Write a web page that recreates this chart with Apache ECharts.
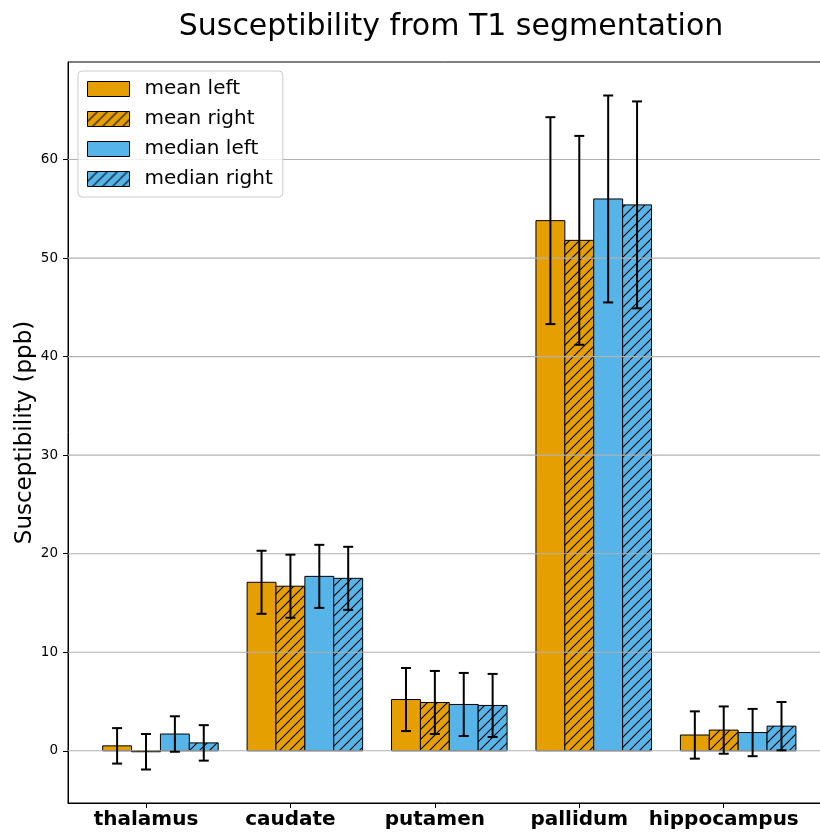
<!DOCTYPE html>
<html>
<head>
<meta charset="utf-8">
<script src="https://cdn.jsdelivr.net/npm/echarts@6/dist/echarts.min.js"></script>
<style>
html,body{margin:0;padding:0;background:#fff;}
#chart{width:820px;height:836px;}
</style>
</head>
<body>
<div id="chart"></div>
<script>
// ---- data ----
const categories = ['thalamus', 'caudate', 'putamen', 'pallidum', 'hippocampus'];
const seriesNames = ['mean left', 'mean right', 'median left', 'median right'];
const meanLeft    = [0.5, 17.1, 5.2, 53.8, 1.6];
const meanRight   = [-0.1, 16.7, 4.9, 51.8, 2.1];
const medianLeft  = [1.7, 17.7, 4.7, 56.0, 1.85];
const medianRight = [0.8, 17.5, 4.6, 55.4, 2.5];
const errMeanLeft    = [1.8, 3.2, 3.2, 10.5, 2.4];
const errMeanRight   = [1.8, 3.2, 3.2, 10.6, 2.4];
const errMedianLeft  = [1.8, 3.2, 3.2, 10.5, 2.4];
const errMedianRight = [1.8, 3.2, 3.2, 10.5, 2.45];
const yTicks = [0, 10, 20, 30, 40, 50, 60];

const values = [meanLeft, meanRight, medianLeft, medianRight];
const errors = [errMeanLeft, errMeanRight, errMedianLeft, errMedianRight];

// ---- styling ----
const ORANGE = '#E69F00';
const BLUE = '#56B4E9';
const BAR_W = 0.2;
const OFFSETS = [-0.2, 0, 0.2, 0.4];
const X_MIN = -0.54, X_MAX = 4.74;
const Y_MIN = -5.3, Y_MAX = 69.9;
const FONT = 'DejaVu Sans';

function hatch(color) {
  const s = 20;
  const c = document.createElement('canvas');
  c.width = s; c.height = s;
  const ctx = c.getContext('2d');
  ctx.fillStyle = color;
  ctx.fillRect(0, 0, s, s);
  ctx.strokeStyle = '#000';
  ctx.lineWidth = 1.1;
  for (let k = -2; k <= 2; k++) {
    const o = k * s / 2;
    ctx.beginPath();
    ctx.moveTo(o, s);
    ctx.lineTo(o + s, 0);
    ctx.stroke();
  }
  return { image: c, repeat: 'repeat' };
}
const fills = [ORANGE, hatch(ORANGE), BLUE, hatch(BLUE)];

const series = [];
values.forEach((vals, k) => {
  series.push({
    name: seriesNames[k],
    type: 'custom',
    z: 2,
    itemStyle: { color: fills[k], borderColor: '#000', borderWidth: 1 },
    data: vals.map((v, i) => [i + OFFSETS[k], v]),
    renderItem: function (params, api) {
      const x = api.value(0), y = api.value(1);
      const p0 = api.coord([x - BAR_W / 2, 0]);
      const p1 = api.coord([x + BAR_W / 2, y]);
      return {
        type: 'rect',
        shape: { x: p0[0], y: Math.min(p0[1], p1[1]), width: p1[0] - p0[0], height: Math.abs(p1[1] - p0[1]) },
        style: { fill: fills[k], stroke: '#000', lineWidth: 1 }
      };
    }
  });
});

// horizontal grid lines drawn above bars
series.push({
  type: 'custom',
  z: 3,
  silent: true,
  data: yTicks.map(v => [v]),
  renderItem: function (params, api) {
    const cs = params.coordSys;
    const p = api.coord([X_MIN, api.value(0)]);
    return {
      type: 'line',
      shape: { x1: cs.x, y1: p[1], x2: cs.x + cs.width, y2: p[1] },
      style: { stroke: '#b0b0b0', lineWidth: 1.1 }
    };
  }
});

// error bars
values.forEach((vals, k) => {
  series.push({
    type: 'custom',
    z: 4,
    silent: true,
    data: vals.map((v, i) => [i + OFFSETS[k], v, errors[k][i]]),
    renderItem: function (params, api) {
      const x = api.value(0), y = api.value(1), e = api.value(2);
      const top = api.coord([x, y + e]);
      const bot = api.coord([x, y - e]);
      const cap = 5;
      const st = { stroke: '#000', lineWidth: 2 };
      return {
        type: 'group',
        children: [
          { type: 'line', shape: { x1: top[0], y1: top[1], x2: bot[0], y2: bot[1] }, style: st },
          { type: 'line', shape: { x1: top[0] - cap, y1: top[1], x2: top[0] + cap, y2: top[1] }, style: st },
          { type: 'line', shape: { x1: bot[0] - cap, y1: bot[1], x2: bot[0] + cap, y2: bot[1] }, style: st }
        ]
      };
    }
  });
});

const chart = echarts.init(document.getElementById('chart'), null, { renderer: 'canvas' });
chart.setOption({
  animation: false,
  backgroundColor: '#fff',
  textStyle: { fontFamily: FONT },
  title: {
    text: 'Susceptibility from T1 segmentation',
    left: 446, textAlign: 'center', top: 7,
    textStyle: { fontFamily: FONT, fontSize: 30, fontWeight: 'normal', color: '#000' }
  },
  legend: {
    left: 78, top: 71,
    orient: 'vertical',
    icon: 'rect',
    itemWidth: 42, itemHeight: 15,
    itemGap: 10,
    padding: [8, 10, 8, 9],
    backgroundColor: 'rgba(255,255,255,0.8)',
    borderColor: '#cccccc', borderWidth: 1, borderRadius: 4,
    textStyle: { fontFamily: FONT, fontSize: 20, lineHeight: 20, color: '#000', padding: [0, 0, 0, 10] },
    data: seriesNames.map((n, k) => ({
      name: n,
      itemStyle: { color: fills[k], borderColor: '#000', borderWidth: 1 }
    }))
  },
  grid: {
    left: 68, top: 62, width: 762.6, bottom: 33,
    outerBoundsMode: 'none',
    containLabel: false,
    show: true, borderColor: '#000', borderWidth: 1, backgroundColor: 'transparent'
  },
  xAxis: {
    type: 'value', min: X_MIN, max: X_MAX,
    axisLine: { show: true, onZero: false, lineStyle: { color: '#000', width: 1 } },
    axisTick: { show: true, customValues: [0, 1, 2, 3, 4], length: 5, lineStyle: { color: '#000' } },
    axisLabel: {
      customValues: [0, 1, 2, 3, 4],
      formatter: v => categories[Math.round(v)],
      fontFamily: FONT, fontSize: 20, fontWeight: 'bold', color: '#000', margin: 7
    },
    splitLine: { show: false }
  },
  yAxis: {
    type: 'value', min: Y_MIN, max: Y_MAX,
    name: 'Susceptibility (ppb)',
    nameLocation: 'middle', nameGap: 31, nameMoveOverlap: false,
    nameTextStyle: { fontFamily: FONT, fontSize: 23, color: '#000' },
    axisLine: { show: true, onZero: false, lineStyle: { color: '#000', width: 1 } },
    axisTick: { show: true, customValues: yTicks, length: 5, lineStyle: { color: '#000' } },
    axisLabel: { customValues: yTicks, fontFamily: FONT, fontSize: 13.5, color: '#000', margin: 10 },
    splitLine: { show: false }
  },
  series: series
});
</script>
</body>
</html>
